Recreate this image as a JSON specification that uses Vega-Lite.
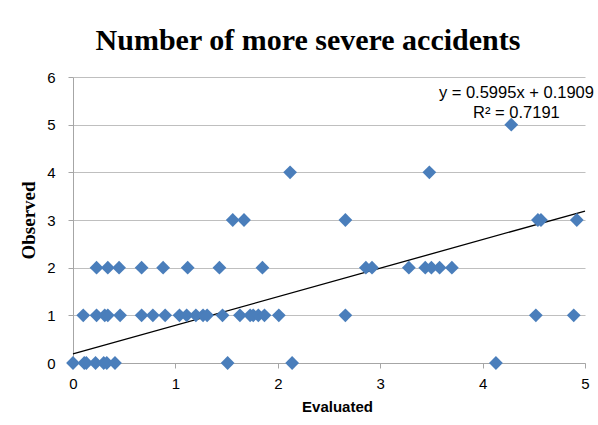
{
  "$schema": "https://vega.github.io/schema/vega-lite/v6.json",
  "width": 512,
  "height": 286,
  "autosize": "none",
  "padding": {"left": 73, "top": 77, "right": 13, "bottom": 62},
  "background": "white",
  "config": {"view": {"stroke": null}},
  "title": {
    "text": "Number of more severe accidents",
    "font": "Liberation Serif",
    "fontSize": 30,
    "fontWeight": "bold",
    "color": "black",
    "anchor": "middle",
    "frame": "group",
    "dx": -21,
    "offset": -10,
    "baseline": "alphabetic"
  },
  "datasets": {
    "pts": [
      {"evaluated": 0.0, "observed": 0}, {"evaluated": 0.11, "observed": 0}, {"evaluated": 0.13, "observed": 0},
      {"evaluated": 0.22, "observed": 0}, {"evaluated": 0.3, "observed": 0}, {"evaluated": 0.33, "observed": 0},
      {"evaluated": 0.41, "observed": 0}, {"evaluated": 1.51, "observed": 0}, {"evaluated": 2.14, "observed": 0},
      {"evaluated": 4.13, "observed": 0},
      {"evaluated": 0.1, "observed": 1}, {"evaluated": 0.23, "observed": 1}, {"evaluated": 0.31, "observed": 1},
      {"evaluated": 0.34, "observed": 1}, {"evaluated": 0.46, "observed": 1}, {"evaluated": 0.67, "observed": 1},
      {"evaluated": 0.78, "observed": 1}, {"evaluated": 0.9, "observed": 1}, {"evaluated": 1.04, "observed": 1},
      {"evaluated": 1.11, "observed": 1}, {"evaluated": 1.2, "observed": 1}, {"evaluated": 1.27, "observed": 1},
      {"evaluated": 1.31, "observed": 1}, {"evaluated": 1.46, "observed": 1}, {"evaluated": 1.63, "observed": 1},
      {"evaluated": 1.73, "observed": 1}, {"evaluated": 1.76, "observed": 1}, {"evaluated": 1.81, "observed": 1},
      {"evaluated": 1.87, "observed": 1}, {"evaluated": 2.01, "observed": 1}, {"evaluated": 2.66, "observed": 1},
      {"evaluated": 4.52, "observed": 1}, {"evaluated": 4.89, "observed": 1},
      {"evaluated": 0.23, "observed": 2}, {"evaluated": 0.34, "observed": 2}, {"evaluated": 0.45, "observed": 2},
      {"evaluated": 0.67, "observed": 2}, {"evaluated": 0.88, "observed": 2}, {"evaluated": 1.12, "observed": 2},
      {"evaluated": 1.43, "observed": 2}, {"evaluated": 1.85, "observed": 2}, {"evaluated": 2.86, "observed": 2},
      {"evaluated": 2.92, "observed": 2}, {"evaluated": 3.28, "observed": 2}, {"evaluated": 3.44, "observed": 2},
      {"evaluated": 3.5, "observed": 2}, {"evaluated": 3.58, "observed": 2}, {"evaluated": 3.7, "observed": 2},
      {"evaluated": 1.56, "observed": 3}, {"evaluated": 1.67, "observed": 3}, {"evaluated": 2.66, "observed": 3},
      {"evaluated": 4.54, "observed": 3}, {"evaluated": 4.57, "observed": 3}, {"evaluated": 4.92, "observed": 3},
      {"evaluated": 2.12, "observed": 4}, {"evaluated": 3.48, "observed": 4},
      {"evaluated": 4.28, "observed": 5}
    ],
    "trend": [
      {"evaluated": 0, "observed": 0.1909},
      {"evaluated": 5, "observed": 3.1884}
    ],
    "labels": [
      {"evaluated": 4.33, "observed": 5.67, "text": "y = 0.5995x + 0.1909"},
      {"evaluated": 4.33, "observed": 5.24, "text": "R² = 0.7191"}
    ]
  },
  "encoding": {
    "x": {
      "field": "evaluated", "type": "quantitative",
      "scale": {"domain": [0, 5], "nice": false, "zero": false},
      "axis": {
        "title": "Evaluated", "values": [0, 1, 2, 3, 4, 5], "grid": false, "labelFlush": false,
        "domainColor": "#a6a6a6", "tickColor": "#a6a6a6", "tickSize": 5,
        "labelFont": "Liberation Sans", "labelFontSize": 15, "labelColor": "black", "labelPadding": 8,
        "titleFont": "Liberation Sans", "titleFontSize": 15, "titleFontWeight": "bold", "titleColor": "black",
        "titlePadding": 8, "titleX": 264
      }
    },
    "y": {
      "field": "observed", "type": "quantitative",
      "scale": {"domain": [0, 6], "nice": false},
      "axis": {
        "title": "Observed", "values": [0, 1, 2, 3, 4, 5, 6], "grid": true, "gridColor": "#bfbfbf", "labelFlush": false,
        "domainColor": "#a6a6a6", "tickColor": "#a6a6a6", "tickSize": 5,
        "labelFont": "Liberation Sans", "labelFontSize": 15, "labelColor": "black", "labelPadding": 13,
        "titleFont": "Liberation Serif", "titleFontSize": 19, "titleFontWeight": "bold", "titleColor": "black",
        "titlePadding": 8
      }
    }
  },
  "layer": [
    {
      "data": {"name": "trend"},
      "mark": {"type": "line", "color": "black", "strokeWidth": 1.3}
    },
    {
      "data": {"name": "pts"},
      "mark": {"type": "point", "shape": "diamond", "filled": true, "fill": "#4a7ebb", "opacity": 1, "size": 190, "strokeWidth": 0}
    },
    {
      "data": {"name": "labels"},
      "mark": {"type": "text", "font": "Liberation Sans", "fontSize": 16.5, "color": "black", "align": "center", "baseline": "middle"},
      "encoding": {"text": {"field": "text"}}
    }
  ]
}
